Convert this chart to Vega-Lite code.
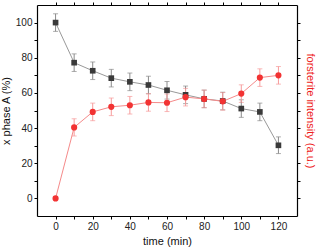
{
  "$schema": "https://vega.github.io/schema/vega-lite/v6.json",
  "width": 260,
  "height": 211,
  "autosize": "none",
  "padding": {"left": 37, "top": 5, "right": 23, "bottom": 36},
  "background": "white",
  "config": {
    "view": {"stroke": null},
    "font": "Liberation Sans",
    "axis": {"grid": false, "domain": true, "ticks": true, "domainColor": "#000", "tickColor": "#000", "labelColor": "#222", "labelFontSize": 10, "titleFontSize": 11, "titleFontWeight": "normal", "titleColor": "#111", "tickSize": 3, "domainWidth": 1.2}
  },
  "data": {"values": [
    {"t": 0, "s": "A", "v": 100, "lo": 95, "hi": 105},
    {"t": 10, "s": "A", "v": 77.2, "lo": 72.2, "hi": 82.2},
    {"t": 20, "s": "A", "v": 72.6, "lo": 67.6, "hi": 77.6},
    {"t": 30, "s": "A", "v": 68.4, "lo": 63.4, "hi": 73.4},
    {"t": 40, "s": "A", "v": 66.3, "lo": 61.3, "hi": 71.3},
    {"t": 50, "s": "A", "v": 64.5, "lo": 59.5, "hi": 69.5},
    {"t": 60, "s": "A", "v": 61.5, "lo": 56.5, "hi": 66.5},
    {"t": 70, "s": "A", "v": 58.9, "lo": 53.9, "hi": 63.9},
    {"t": 80, "s": "A", "v": 56.6, "lo": 51.6, "hi": 61.6},
    {"t": 90, "s": "A", "v": 55.4, "lo": 50.4, "hi": 60.4},
    {"t": 100, "s": "A", "v": 51.1, "lo": 46.1, "hi": 56.1},
    {"t": 110, "s": "A", "v": 49.2, "lo": 44.2, "hi": 54.2},
    {"t": 120, "s": "A", "v": 30.2, "lo": 25.5, "hi": 35},
    {"t": 0, "s": "F", "v": 0, "lo": 0, "hi": 0},
    {"t": 10, "s": "F", "v": 40.4, "lo": 35.5, "hi": 45.3},
    {"t": 20, "s": "F", "v": 49.2, "lo": 44.2, "hi": 54.2},
    {"t": 30, "s": "F", "v": 52.1, "lo": 47.1, "hi": 57.1},
    {"t": 40, "s": "F", "v": 53.0, "lo": 48, "hi": 58},
    {"t": 50, "s": "F", "v": 54.6, "lo": 49.6, "hi": 59.6},
    {"t": 60, "s": "F", "v": 54.4, "lo": 49.4, "hi": 59.4},
    {"t": 70, "s": "F", "v": 57.6, "lo": 52.6, "hi": 62.6},
    {"t": 80, "s": "F", "v": 56.6, "lo": 51.6, "hi": 61.6},
    {"t": 90, "s": "F", "v": 55.2, "lo": 50.2, "hi": 60.2},
    {"t": 100, "s": "F", "v": 59.6, "lo": 54.6, "hi": 64.6},
    {"t": 110, "s": "F", "v": 68.7, "lo": 63.7, "hi": 73.7},
    {"t": 120, "s": "F", "v": 70.0, "lo": 65, "hi": 75}
  ]},
  "resolve": {"scale": {"x": "independent", "y": "independent", "color": "independent"}, "axis": {"x": "independent", "y": "independent"}},
  "layer": [
    {
      "mark": {"type": "errorbar", "ticks": {"size": 5}, "thickness": 1},
      "encoding": {
        "x": {"field": "t", "type": "quantitative", "scale": {"domain": [-10, 130], "nice": false, "zero": false},
              "axis": {"orient": "bottom", "title": "time (min)", "values": [0, 10, 20, 30, 40, 50, 60, 70, 80, 90, 100, 110, 120], "labelExpr": "datum.value % 20 === 0 ? datum.label : ''", "titlePadding": 4}},
        "y": {"field": "lo", "type": "quantitative", "scale": {"domain": [-10, 110], "nice": false, "zero": false},
              "axis": {"orient": "left", "title": "x phase A (%)", "values": [0, 10, 20, 30, 40, 50, 60, 70, 80, 90, 100], "labelExpr": "datum.value % 20 === 0 ? datum.label : ''", "titlePadding": 4}},
        "y2": {"field": "hi"},
        "color": {"field": "s", "type": "nominal", "scale": {"domain": ["A", "F"], "range": ["#8a8a8a", "#f79a9a"]}, "legend": null}
      }
    },
    {
      "mark": {"type": "line", "strokeWidth": 1},
      "encoding": {
        "x": {"field": "t", "type": "quantitative", "scale": {"domain": [-10, 130], "nice": false, "zero": false},
              "axis": {"orient": "top", "title": null, "labels": false, "values": [0, 10, 20, 30, 40, 50, 60, 70, 80, 90, 100, 110, 120]}},
        "y": {"field": "v", "type": "quantitative", "scale": {"domain": [-10, 110], "nice": false, "zero": false},
              "axis": {"orient": "right", "title": "forsterite intensity (a.u.)", "titleColor": "#ee1c1c", "labels": false, "values": [0, 10, 20, 30, 40, 50, 60, 70, 80, 90, 100], "titlePadding": 4}},
        "color": {"field": "s", "type": "nominal", "scale": {"domain": ["A", "F"], "range": ["#999999", "#f58a8a"]}, "legend": null}
      }
    },
    {
      "transform": [{"filter": "datum.s === 'A'"}],
      "mark": {"type": "point", "shape": "square", "filled": true, "size": 32, "opacity": 1, "color": "#3a3a3a"},
      "encoding": {
        "x": {"field": "t", "type": "quantitative", "scale": {"domain": [-10, 130], "nice": false, "zero": false}, "axis": null},
        "y": {"field": "v", "type": "quantitative", "scale": {"domain": [-10, 110], "nice": false, "zero": false}, "axis": null}
      }
    },
    {
      "transform": [{"filter": "datum.s === 'F'"}],
      "mark": {"type": "point", "shape": "circle", "filled": true, "size": 38, "opacity": 1, "color": "#f23333"},
      "encoding": {
        "x": {"field": "t", "type": "quantitative", "scale": {"domain": [-10, 130], "nice": false, "zero": false}, "axis": null},
        "y": {"field": "v", "type": "quantitative", "scale": {"domain": [-10, 110], "nice": false, "zero": false}, "axis": null}
      }
    }
  ]
}
